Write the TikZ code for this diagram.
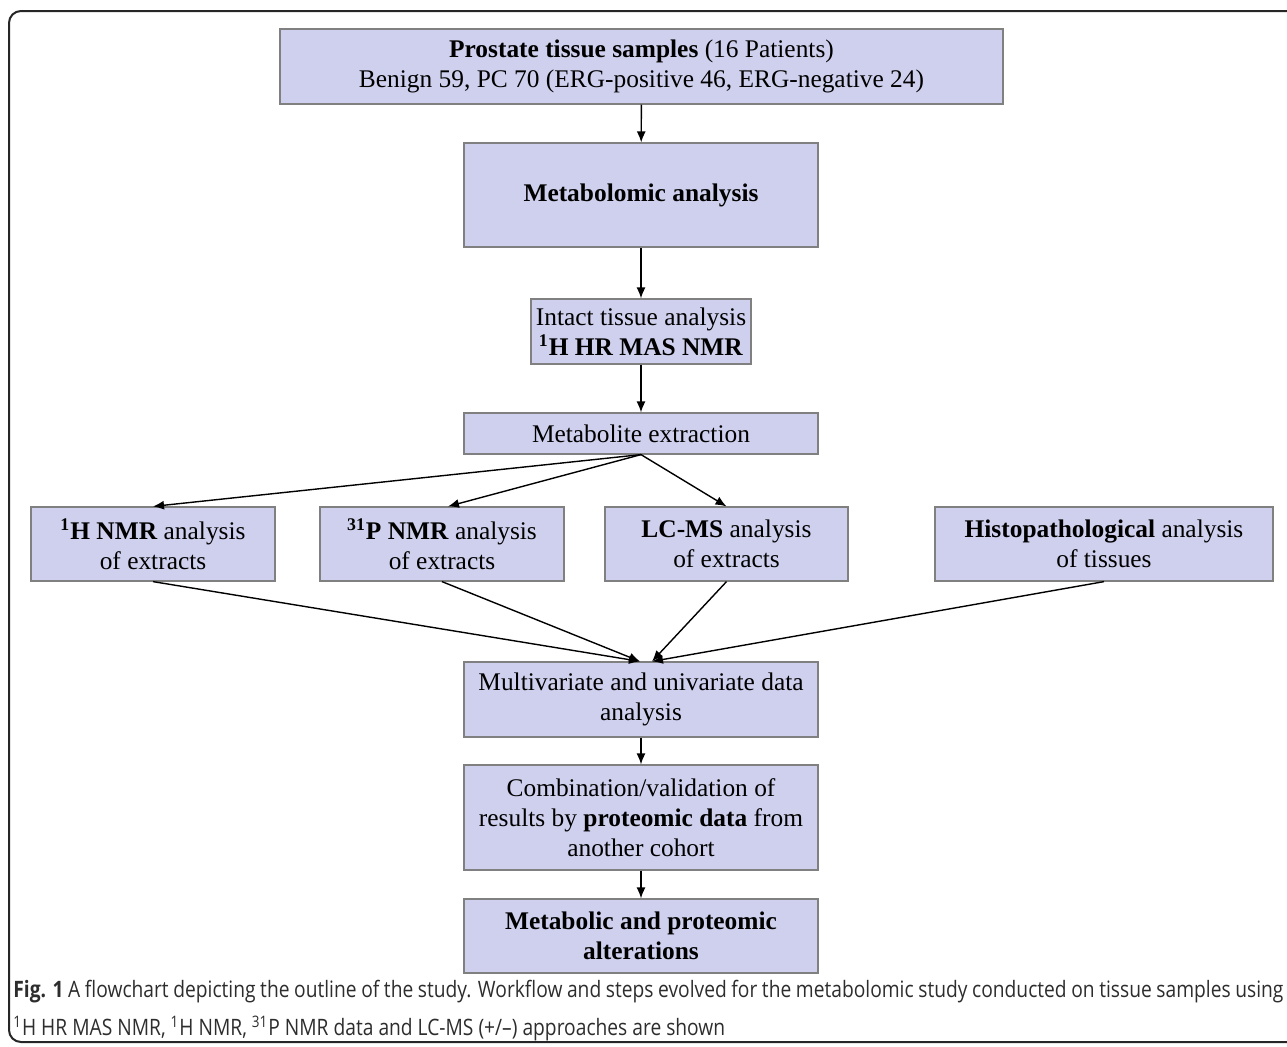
\documentclass[tikz,border=0pt]{standalone}
\usepackage{fontspec}
\setmainfont{Liberation Serif}
\newfontfamily\capfont[FakeStretch=0.85]{Open Sans}
\usetikzlibrary{arrows.meta}
\definecolor{boxfill}{RGB}{207,208,238}
\definecolor{boxline}{RGB}{128,128,128}
\definecolor{captext}{RGB}{45,45,45}

\begin{document}
\begin{tikzpicture}[x=0.5pt,y=-0.5pt,
  box/.style={draw=boxline,fill=boxfill,line width=0.6pt,inner sep=0pt,
    align=center,font=\fontsize{12.7}{15}\selectfont},
  flow/.style={-{Latex[length=5.5pt,width=4.5pt]},line width=0.7pt}]
  \useasboundingbox (0,0) rectangle (1287,1046);

  % Frame
  \draw[line width=1pt,rounded corners=6pt,black!85] (9,11) rectangle (1330,1042);

  % Boxes
  \node (samples) [box,minimum width=361.5pt,minimum height=37.5pt] at (641.5,66.5)
    {\textbf{Prostate tissue samples} (16 Patients)\\Benign 59, PC 70 (ERG-positive 46, ERG-negative 24)};
  \node (metab) [box,minimum width=177pt,minimum height=52pt] at (641,195)
    {\textbf{Metabolomic analysis}};
  \node (intact) [box,minimum width=110pt,minimum height=32.5pt] at (641,331.5)
    {Intact tissue analysis\\\textbf{\textsuperscript{1}H HR MAS NMR}};
  \node (extr) [box,minimum width=177pt,minimum height=20.5pt] at (641,433.5)
    {Metabolite extraction};

  \node (hnmr) [box,minimum width=122pt,minimum height=37pt] at (153,544)
    {\textbf{\textsuperscript{1}H NMR} analysis\\of extracts};
  \node (pnmr) [box,minimum width=122pt,minimum height=37pt] at (442,544)
    {\textbf{\textsuperscript{31}P NMR} analysis\\of extracts};
  \node (lcms) [box,minimum width=121.5pt,minimum height=37pt] at (726.5,544)
    {\textbf{LC-MS} analysis\\of extracts};
  \node (histo) [box,minimum width=169pt,minimum height=37pt] at (1104,544)
    {\textbf{Histopathological} analysis\\of tissues};

  \node (multi) [box,minimum width=177pt,minimum height=37.5pt] at (641,699.5)
    {Multivariate and univariate data\\analysis};
  \node (combi) [box,minimum width=177pt,minimum height=52.5pt] at (641,817.5)
    {Combination/validation of\\results by \textbf{proteomic data} from\\another cohort};
  \node (alter) [box,minimum width=177pt,minimum height=37pt] at (641,936)
    {\textbf{Metabolic and proteomic}\\\textbf{alterations}};

  % Arrows
  \draw[flow] (samples) -- (metab);
  \draw[flow] (metab) -- (intact);
  \draw[flow] (intact) -- (extr);
  \draw[flow] (extr.south) -- (hnmr.north);
  \draw[flow] (extr.south) -- ([xshift=3pt]pnmr.north);
  \draw[flow] (extr.south) -- (lcms.north);
  \draw[flow] (hnmr.south) -- ([xshift=-0.5pt]multi.north);
  \draw[flow] (pnmr.south) -- ([xshift=-0.5pt]multi.north);
  \draw[flow] (lcms.south) -- ([xshift=5.5pt]multi.north);
  \draw[flow] (histo.south) -- ([xshift=5.5pt]multi.north);
  \draw[flow] (multi) -- (combi);
  \draw[flow] (combi) -- (alter);

  % Caption
  \node (caption) [anchor=north west,inner sep=0pt,align=left,text=captext,
    font=\capfont\fontsize{11.3}{19}\selectfont] at (13,980)
    {\makebox[635pt][s]{\textbf{Fig. 1} A flowchart depicting the outline of the study. Workflow and steps evolved for the metabolomic study conducted on tissue samples using}\\
     \textsuperscript{1}H HR MAS NMR, \textsuperscript{1}H NMR, \textsuperscript{31}P NMR data and LC-MS (+/–) approaches are shown};
\end{tikzpicture}
\end{document}
